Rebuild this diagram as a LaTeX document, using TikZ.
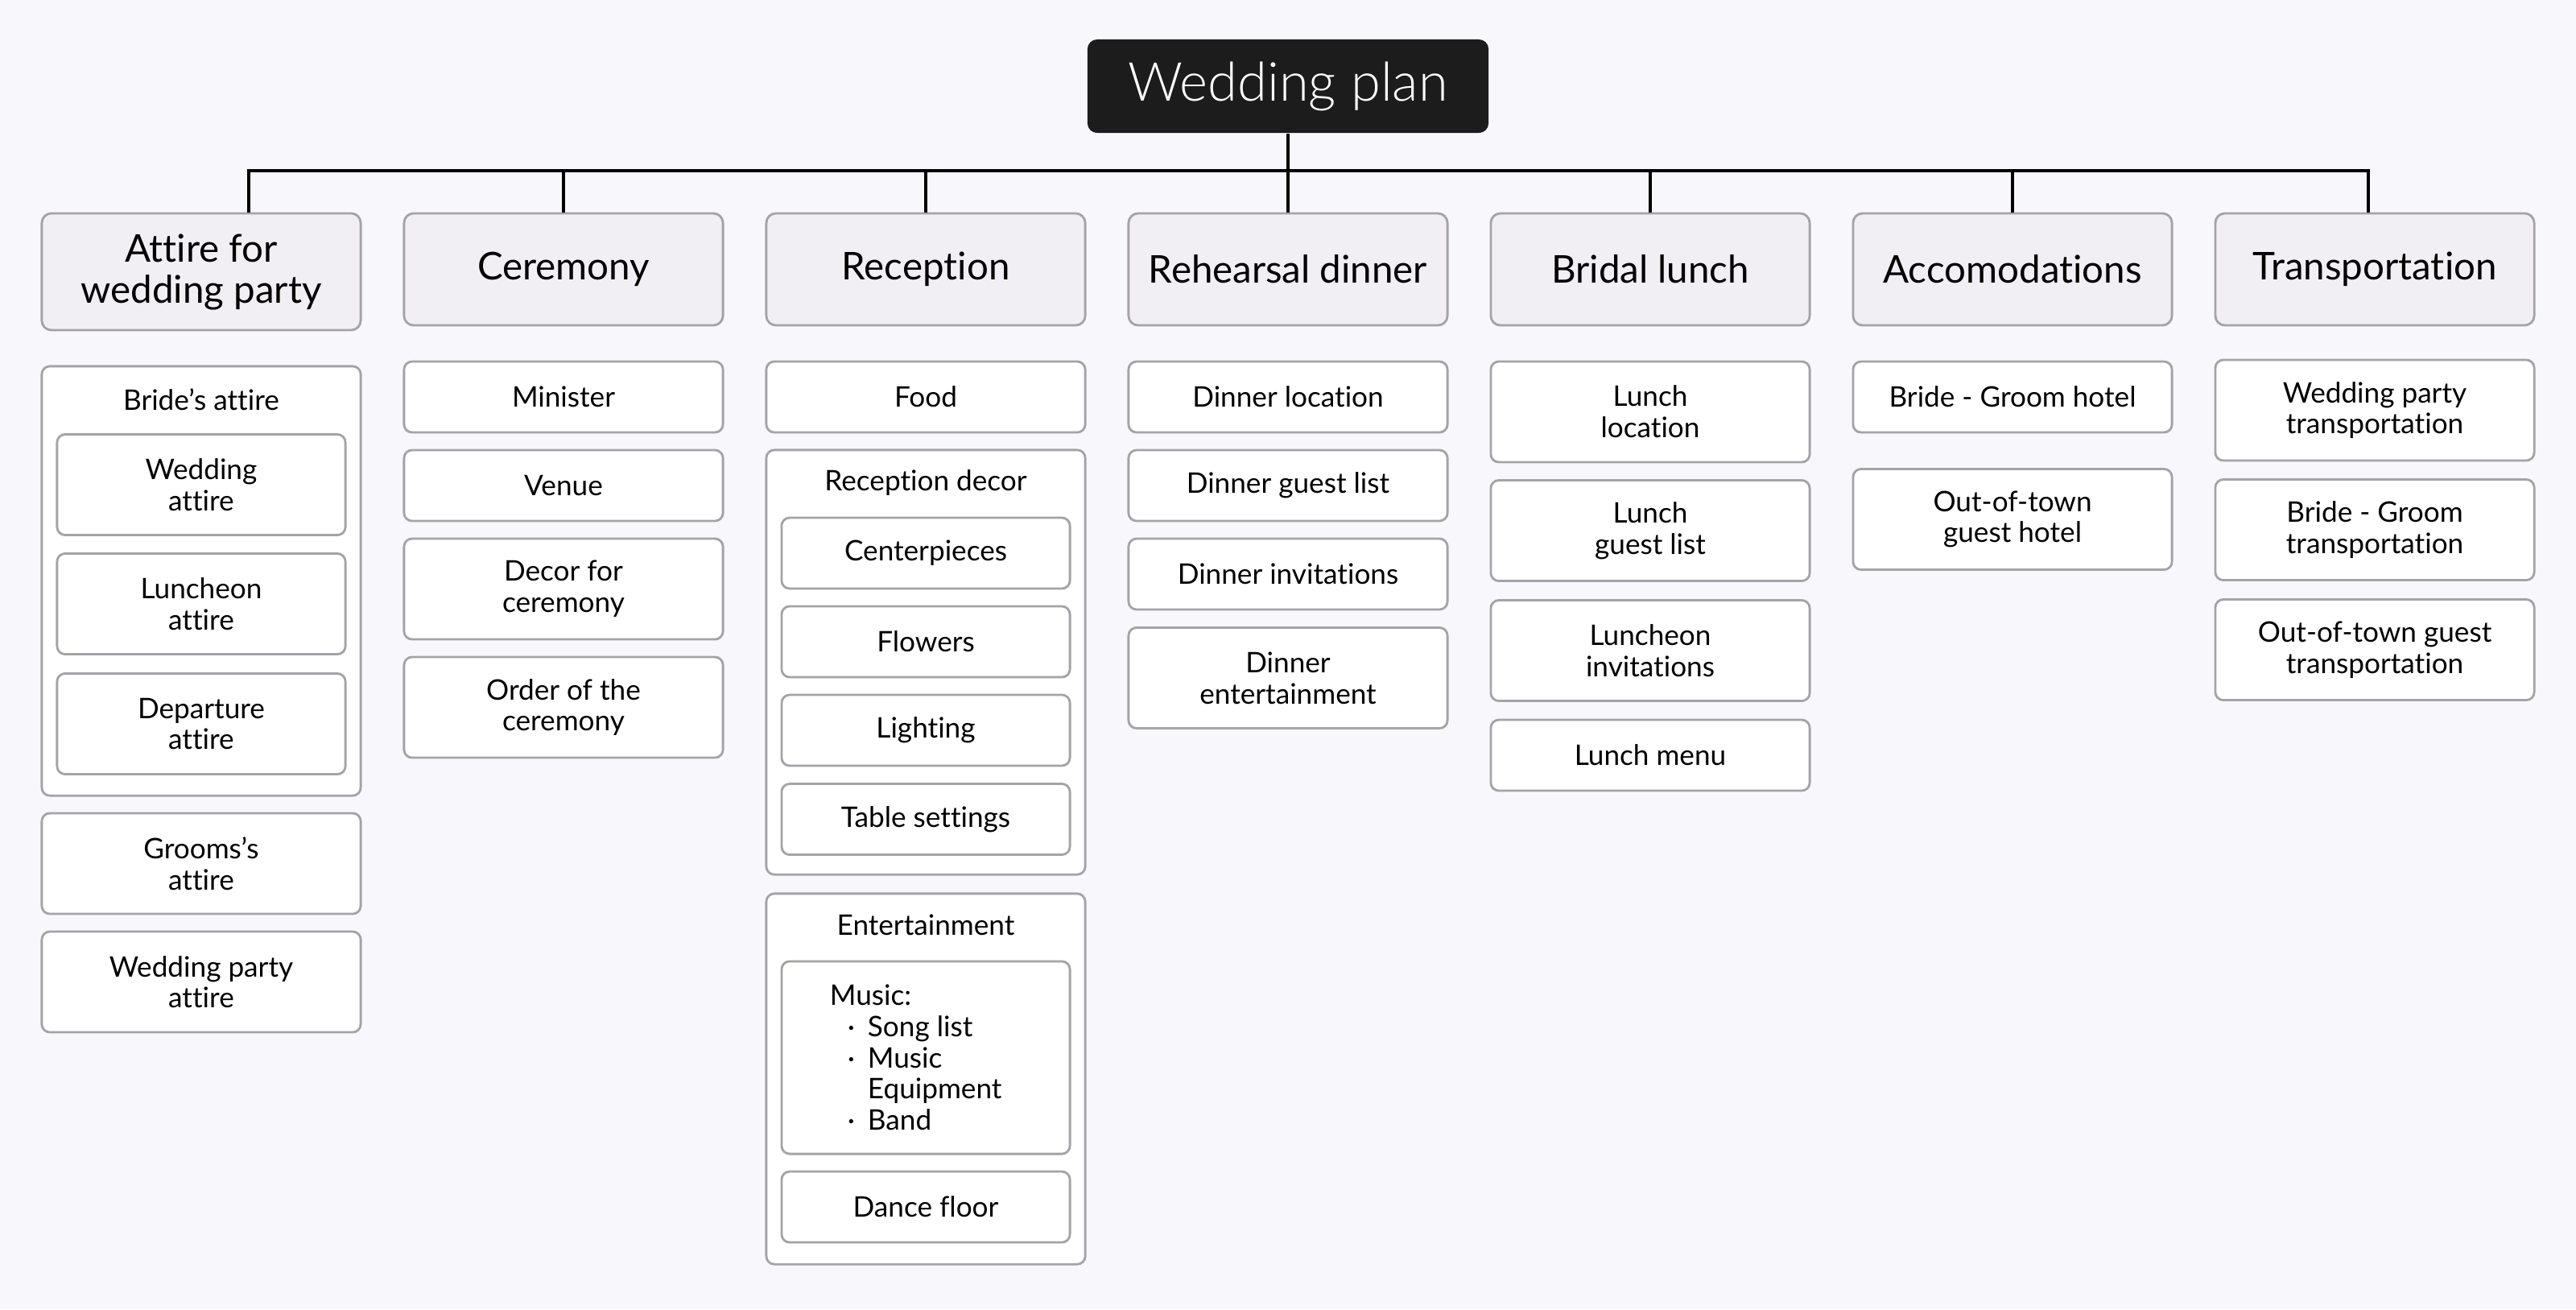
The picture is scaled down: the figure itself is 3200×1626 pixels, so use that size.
\documentclass[tikz,border=0pt]{standalone}
\usepackage{fontspec}
\setmainfont{Lato}[Ligatures=NoCommon]
\newfontfamily\titlefont{Lato Light}
\usetikzlibrary{positioning}

\definecolor{bgcol}{HTML}{F8F8FC}
\definecolor{headcol}{HTML}{F2EFF4}
\definecolor{edgecol}{HTML}{A3A3A8}
\definecolor{darkcol}{HTML}{1C1C1C}

\newcommand{\musicitem}[1]{\hspace*{0.22cm}\makebox[0.25cm][l]{·}#1}

\tikzset{
  titlebox/.style={fill=darkcol, text=white, rounded corners=0.12cm, minimum width=4.98cm,
    minimum height=1.16cm, font=\titlefont\fontsize{19}{21}\selectfont},
  headbox/.style={draw=edgecol, fill=headcol, line width=0.8pt, rounded corners=0.12cm,
    minimum width=3.96cm, minimum height=1.39cm, align=center, font=\fontsize{13.5}{14.5}\selectfont},
  itembox/.style={draw=edgecol, fill=white, line width=0.8pt, rounded corners=0.1cm,
    minimum width=3.96cm, align=center, inner sep=2pt, font=\fontsize{10}{11}\selectfont},
  groupbox/.style={itembox},
  grouplabel/.style={font=\fontsize{10}{11}\selectfont},
  inner/.style={minimum width=3.58cm},
  one/.style={minimum height=0.88cm},
  two/.style={minimum height=1.25cm},
  bus/.style={line width=1pt, draw=black}
}

\begin{document}
\begin{tikzpicture}[x=0.01cm, y=-0.01cm]
  \fill[bgcol] (0,0) rectangle (3200,1626);

  \node[titlebox] (title) at (1600,107) {Wedding plan};
  \coordinate (busline) at (0,212);

  % headers
  \node[headbox, minimum height=1.45cm] (h1) at (250,337.5) {Attire for\\wedding party};
  \node[headbox] (h2) at (700,334.5) {Ceremony};
  \node[headbox] (h3) at (1150,334.5) {Reception};
  \node[headbox] (h4) at (1600,334.5) {Rehearsal dinner};
  \node[headbox] (h5) at (2050,334.5) {Bridal lunch};
  \node[headbox] (h6) at (2500,334.5) {Accomodations};
  \node[headbox] (h7) at (2950,334.5) {Transportation};

  \coordinate (drop1) at ([xshift=0.59cm]h1.north);
  \coordinate (drop7) at ([xshift=-0.08cm]h7.north);
  \draw[bus] (title.south) -- (title.south |- busline);
  \draw[bus] (drop1) |- (drop7 |- busline) -- (drop7);
  \foreach \i in {2,...,6}
    \draw[bus] (h\i.north |- busline) -- (h\i.north);

  % attire
  \node[groupbox, minimum height=5.33cm] (bride) at (250,721.5) {};
  \node[grouplabel] (bridelabel) at (250,496) {Bride’s attire};
  \node[itembox, inner, two] (wattire) at (250,602) {Wedding\\attire};
  \node[itembox, inner, two] (lattire) at (250,750) {Luncheon\\attire};
  \node[itembox, inner, two] (dattire) at (250,899) {Departure\\attire};
  \node[itembox, two] (gattire) at (250,1072.5) {Grooms’s\\attire};
  \node[itembox, two] (pattire) at (250,1219.5) {Wedding party\\attire};

  % ceremony
  \node[itembox, one] (minister) at (700,493) {Minister};
  \node[itembox, one] (venue) at (700,603) {Venue};
  \node[itembox, two] (cdecor) at (700,731.5) {Decor for\\ceremony};
  \node[itembox, two] (corder) at (700,878.5) {Order of the\\ceremony};

  % reception
  \node[itembox, one] (food) at (1150,493) {Food};
  \node[groupbox, minimum height=5.27cm] (rdecor) at (1150,822.5) {};
  \node[grouplabel] (rdecorlabel) at (1150,600) {Reception decor};
  \node[itembox, inner, one] (centerp) at (1150,687) {Centerpieces};
  \node[itembox, inner, one] (flowers) at (1150,797) {Flowers};
  \node[itembox, inner, one] (lighting) at (1150,907) {Lighting};
  \node[itembox, inner, one] (tables) at (1150,1017.5) {Table settings};
  \node[groupbox, minimum height=4.60cm] (ent) at (1150,1340) {};
  \node[grouplabel] (entlabel) at (1150,1149) {Entertainment};
  \node[itembox, inner, minimum height=2.39cm, align=left] (music) at (1150,1313.5)
    {Music:\\\musicitem{Song list}\\\musicitem{Music}\\\hspace*{0.47cm}\makebox[1.91cm][l]{Equipment}\\\musicitem{Band}};
  \node[itembox, inner, one] (dance) at (1150,1499) {Dance floor};

  % rehearsal dinner
  \node[itembox, one] (dloc) at (1600,493) {Dinner location};
  \node[itembox, one] (dguest) at (1600,603) {Dinner guest list};
  \node[itembox, one] (dinv) at (1600,713) {Dinner invitations};
  \node[itembox, two] (dent) at (1600,842) {Dinner\\entertainment};

  % bridal lunch
  \node[itembox, two] (lloc) at (2050,511.5) {Lunch\\location};
  \node[itembox, two] (lguest) at (2050,659) {Lunch\\guest list};
  \node[itembox, two] (linv) at (2050,808) {Luncheon\\invitations};
  \node[itembox, one] (lmenu) at (2050,938) {Lunch menu};

  % accomodations
  \node[itembox, one] (bghotel) at (2500,493) {Bride - Groom hotel};
  \node[itembox, two] (othotel) at (2500,645) {Out-of-town\\guest hotel};

  % transportation
  \node[itembox, two] (wptrans) at (2950,509.5) {Wedding party\\transportation};
  \node[itembox, two] (bgtrans) at (2950,658) {Bride - Groom\\transportation};
  \node[itembox, two] (ottrans) at (2950,807) {Out-of-town guest\\transportation};
\end{tikzpicture}
\end{document}
